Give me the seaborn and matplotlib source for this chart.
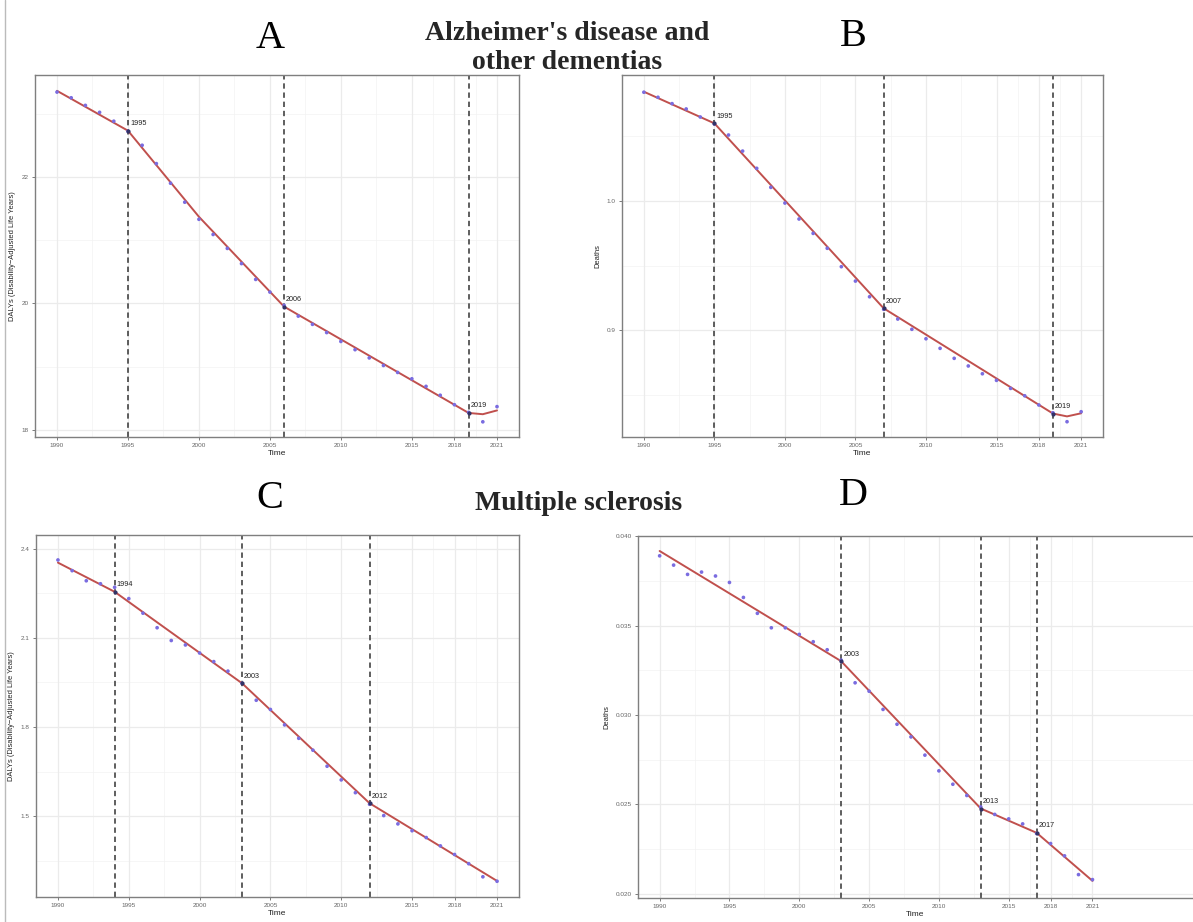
import numpy as np
import pandas as pd
import seaborn as sns
import matplotlib.pyplot as plt
from matplotlib.lines import Line2D

sns.set_style("whitegrid")
plt.rcParams['font.family'] = ['Liberation Sans', 'DejaVu Sans']

# ---- data ----
years = list(range(1990, 2022))
x_breaks = [1990, 1995, 2000, 2005, 2010, 2015, 2018, 2021]
x_minor = [1992.5, 1997.5, 2002.5, 2007.5, 2012.5, 2016.5, 2019.5]

# A: Alzheimer's DALYs
ad_dalys = [23.34, 23.25, 23.13, 23.02, 22.88, 22.72, 22.50, 22.21, 21.90, 21.60,
            21.33, 21.09, 20.87, 20.63, 20.38, 20.18, 19.97, 19.80, 19.67, 19.54,
            19.40, 19.27, 19.14, 19.02, 18.91, 18.81, 18.69, 18.55, 18.40, 18.28,
            18.13, 18.37]
ad_dalys_fit_years = [1990, 1995, 2000, 2006, 2019, 2020, 2021]
ad_dalys_fit = [23.36, 22.73, 21.37, 19.95, 18.27, 18.25, 18.31]
ad_dalys_joins = [1995, 2006, 2019]

# B: Alzheimer's deaths
ad_deaths = [1.0837, 1.0798, 1.0749, 1.0708, 1.0646, 1.0592, 1.0507, 1.0383, 1.0250, 1.0103,
             0.9982, 0.9859, 0.9748, 0.9633, 0.9491, 0.9380, 0.9259, 0.9162, 0.9087, 0.9008,
             0.8935, 0.8861, 0.8784, 0.8725, 0.8665, 0.8614, 0.8552, 0.8495, 0.8424, 0.8364,
             0.8295, 0.8372]
ad_deaths_fit_years = [1990, 1995, 2007, 2019, 2020, 2021]
ad_deaths_fit = [1.0841, 1.0597, 0.9170, 0.8358, 0.8336, 0.8360]
ad_deaths_joins = [1995, 2007, 2019]

# C: MS DALYs
ms_dalys = [2.362, 2.326, 2.292, 2.282, 2.270, 2.232, 2.183, 2.134, 2.091, 2.076,
            2.049, 2.020, 1.988, 1.947, 1.890, 1.859, 1.807, 1.762, 1.722, 1.668,
            1.622, 1.579, 1.540, 1.502, 1.474, 1.451, 1.428, 1.400, 1.371, 1.340,
            1.296, 1.281]
ms_dalys_fit_years = [1990, 1994, 2003, 2012, 2021]
ms_dalys_fit = [2.353, 2.255, 1.947, 1.5435, 1.282]
ms_dalys_joins = [1994, 2003, 2012]

# D: MS deaths
ms_deaths = [0.03891, 0.03839, 0.03787, 0.03800, 0.03778, 0.03742, 0.03658, 0.03569, 0.03488, 0.03488,
             0.03451, 0.03410, 0.03365, 0.03307, 0.03180, 0.03133, 0.03031, 0.02948, 0.02877, 0.02775,
             0.02687, 0.02612, 0.02549, 0.02485, 0.02443, 0.02418, 0.02390, 0.02336, 0.02280, 0.02211,
             0.02106, 0.02078]
ms_deaths_fit_years = [1990, 2003, 2013, 2017, 2021]
ms_deaths_fit = [0.03918, 0.03301, 0.02476, 0.02340, 0.02071]
ms_deaths_joins = [2003, 2013, 2017]

dalys_label = 'DALYs (Disability\u2212Adjusted Life Years)'

W, H = 1193, 922


def add_axes_px(fig, left, right, top, bottom):
    return fig.add_axes([left / W, (H - bottom) / H, (right - left) / W, (bottom - top) / H])


def draw_panel(ax, obs, fit_years, fit_vals, joins, ylabel, y_breaks, y_labels,
               y_minor, ylim, xlim=(1988.45, 2022.55), right_spine=True):
    df = pd.DataFrame({'Time': years, 'value': obs})
    fit = pd.DataFrame({'Time': fit_years, 'value': fit_vals})

    ax.set_axisbelow(True)
    ax.grid(False)
    for xm in x_minor:
        ax.axvline(xm, color='#F3F3F3', lw=0.5, zorder=0)
    for ym in y_minor:
        ax.axhline(ym, color='#F3F3F3', lw=0.5, zorder=0)
    for xb in x_breaks:
        ax.axvline(xb, color='#EBEBEB', lw=0.9, zorder=0)
    for yb in y_breaks:
        ax.axhline(yb, color='#EBEBEB', lw=0.9, zorder=0)

    for jp in joins:
        ax.axvline(jp, color='#333333', ls=(0, (3.5, 2.5)), lw=1.1, zorder=1)

    sns.lineplot(data=fit, x='Time', y='value', color='#C0504D', lw=1.4, ax=ax, zorder=2)
    sns.scatterplot(data=df, x='Time', y='value', color='#7A6CE0', s=7,
                    edgecolor='none', ax=ax, zorder=3)

    for jp in joins:
        yv = np.interp(jp, fit_years, fit_vals)
        ax.plot([jp], [yv], marker='o', ms=2.0, color='#333366', zorder=4)
        ax.annotate(str(jp), (jp, yv), xytext=(1.5, 2.5), textcoords='offset points',
                    fontsize=5.2, color='#222222', ha='left', va='bottom')

    ax.set_xlim(*xlim)
    ax.set_ylim(*ylim)
    ax.set_xticks(x_breaks)
    ax.set_xticklabels([str(v) for v in x_breaks])
    ax.set_yticks(y_breaks)
    ax.set_yticklabels(y_labels)
    ax.tick_params(axis='both', labelsize=4.6, labelcolor='#666666', color='#666666',
                   length=2.5, width=0.6, pad=2, bottom=True, left=True)
    ax.set_xlabel('Time', fontsize=6, color='#222222', labelpad=1)
    ax.set_ylabel(ylabel, fontsize=5.4, color='#222222', labelpad=4)
    for name, sp in ax.spines.items():
        sp.set_color('#7F7F7F')
        sp.set_linewidth(1.0)
    if not right_spine:
        ax.spines['right'].set_visible(False)


fig = plt.figure(figsize=(W / 100, H / 100), dpi=100)

axA = add_axes_px(fig, 35, 519, 75, 437)
draw_panel(axA, ad_dalys, ad_dalys_fit_years, ad_dalys_fit, ad_dalys_joins, dalys_label,
           [18, 20, 22], ['18', '20', '22'], [19, 21, 23], (17.89, 23.61))

axB = add_axes_px(fig, 622, 1103, 75, 437)
draw_panel(axB, ad_deaths, ad_deaths_fit_years, ad_deaths_fit, ad_deaths_joins, 'Deaths',
           [0.9, 1.0], ['0.9', '1.0'], [0.85, 0.95, 1.05], (0.8177, 1.097))

axC = add_axes_px(fig, 36, 519, 535, 897)
draw_panel(axC, ms_dalys, ms_dalys_fit_years, ms_dalys_fit, ms_dalys_joins, dalys_label,
           [1.5, 1.8, 2.1, 2.4], ['1.5', '1.8', '2.1', '2.4'], [1.35, 1.65, 1.95, 2.25],
           (1.228, 2.446))

axD = add_axes_px(fig, 638, 1193, 536, 898)
draw_panel(axD, ms_deaths, ms_deaths_fit_years, ms_deaths_fit, ms_deaths_joins, 'Deaths',
           [0.020, 0.025, 0.030, 0.035, 0.040], ['0.020', '0.025', '0.030', '0.035', '0.040'],
           [0.0225, 0.0275, 0.0325, 0.0375], (0.01975, 0.04002),
           xlim=(1988.45, 2028.2), right_spine=False)

# panel letters and disease titles
serif = ['Liberation Serif', 'DejaVu Serif']
for letter, (px, py) in {'A': (270, 38), 'B': (853, 37), 'C': (270, 498), 'D': (853, 495)}.items():
    fig.text(px / W, 1 - py / H, letter, family=serif, fontsize=29,
             ha='center', va='center', color='black')

fig.text(567 / W, 1 - 48 / H, "Alzheimer's disease and\nother dementias", family=serif,
         fontsize=20, fontweight='bold', ha='center', va='center', linespacing=1.22)
fig.text(579 / W, 1 - 504 / H, 'Multiple sclerosis', family=serif,
         fontsize=20, fontweight='bold', ha='center', va='center')

# thin border line on the far left of the image
fig.add_artist(Line2D([5 / W, 5 / W], [0, 1], color='#BBBBBB', lw=1.0))

fig.savefig('out.png', dpi=100)
